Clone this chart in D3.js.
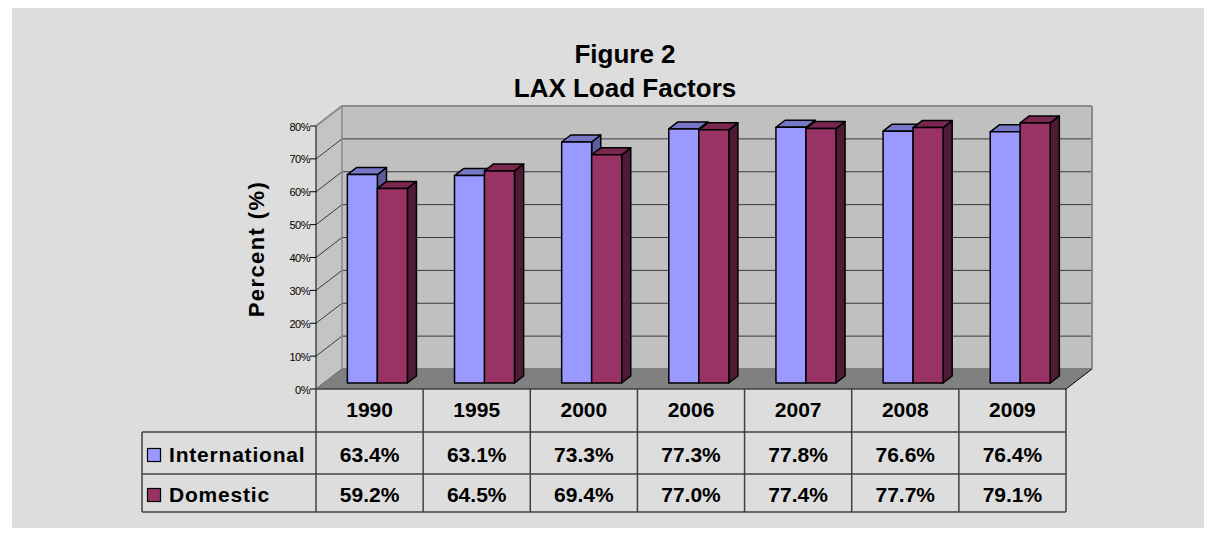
<!DOCTYPE html>
<html>
<head>
<meta charset="utf-8">
<script src="https://cdn.jsdelivr.net/npm/d3@7"></script>
<style>
  body { margin: 0; background: #fff; }
  svg text { font-family: "Liberation Sans", Arial, sans-serif; }
</style>
</head>
<body>
<svg id="graph" width="1216" height="535"></svg>
<script>
// Données
const annees = ["1990", "1995", "2000", "2006", "2007", "2008", "2009"];
const series = ["International", "Domestic"];
const international = [63.4, 63.1, 73.3, 77.3, 77.8, 76.6, 76.4];
const domestic = [59.2, 64.5, 69.4, 77.0, 77.4, 77.7, 79.1];
const graduations = [0, 10, 20, 30, 40, 50, 60, 70, 80];

const couleurs = {
  International: { face: "#9999FF", top: "#7777C8", side: "#5C5C9E" },
  Domestic: { face: "#993366", top: "#7A2850", side: "#4E1A35" }
};

const svg = d3.select("#graph");

// fond gris
svg.append("rect")
  .attr("x", 12).attr("y", 8)
  .attr("width", 1192).attr("height", 520)
  .attr("fill", "#DDDDDD");

// Titre
svg.append("text").attr("x", 625).attr("y", 63)
  .attr("text-anchor", "middle").attr("font-size", 26).attr("font-weight", "bold")
  .text("Figure 2");
svg.append("text").attr("x", 625).attr("y", 97)
  .attr("text-anchor", "middle").attr("font-size", 26).attr("font-weight", "bold")
  .text("LAX Load Factors");

// Echelles
const x = d3.scaleBand().domain(annees).range([316, 1066]);
const y = d3.scaleLinear().domain([0, 80]).range([389, 126]);
const largeurBarre = 30;
const xs = d3.scaleBand().domain(series)
  .range([(x.bandwidth() - 2 * largeurBarre) / 2, (x.bandwidth() + 2 * largeurBarre) / 2]);

// profondeur 3D
const DX = 26, DY = -20;
const proj = (px, v, z) => [px + DX * z, y(v) + DY * z];
const pts = arr => arr.map(p => p.join(",")).join(" ");

const x0 = x.range()[0], x1 = x.range()[1];

// Mur du fond
svg.append("polygon")
  .attr("points", pts([proj(x0, 0, 1), proj(x1, 0, 1), proj(x1, 80, 1), proj(x0, 80, 1)]))
  .attr("fill", "#C0C0C0");
// Mur de gauche
svg.append("polygon")
  .attr("points", pts([proj(x0, 0, 0), proj(x0, 0, 1), proj(x0, 80, 1), proj(x0, 80, 0)]))
  .attr("fill", "#C4C4C4");

// Quadrillage
graduations.forEach(g => {
  svg.append("polyline")
    .attr("points", pts([proj(x0, g, 0), proj(x0, g, 1), proj(x1, g, 1)]))
    .attr("fill", "none")
    .attr("stroke", g === 80 ? "#8A8A8A" : "#3A3A3A")
    .attr("stroke-width", g === 80 ? 2 : 1);
});
// bord droit et coin du mur
svg.append("line")
  .attr("x1", proj(x1, 0, 1)[0]).attr("y1", proj(x1, 0, 1)[1])
  .attr("x2", proj(x1, 80, 1)[0]).attr("y2", proj(x1, 80, 1)[1])
  .attr("stroke", "#8A8A8A").attr("stroke-width", 2);
svg.append("line")
  .attr("x1", proj(x0, 0, 1)[0]).attr("y1", proj(x0, 0, 1)[1])
  .attr("x2", proj(x0, 80, 1)[0]).attr("y2", proj(x0, 80, 1)[1])
  .attr("stroke", "#8A8A8A").attr("stroke-width", 1.5);

// Sol
svg.append("polygon")
  .attr("points", pts([proj(x0, 0, 0), proj(x1, 0, 0), proj(x1, 0, 1), proj(x0, 0, 1)]))
  .attr("fill", "#808080");
svg.append("line")
  .attr("x1", proj(x1, 0, 0)[0]).attr("y1", proj(x1, 0, 0)[1])
  .attr("x2", proj(x1, 0, 1)[0]).attr("y2", proj(x1, 0, 1)[1])
  .attr("stroke", "#000").attr("stroke-width", 1);

// Axe Y
svg.append("line")
  .attr("x1", x0).attr("y1", y(0)).attr("x2", x0).attr("y2", y(80))
  .attr("stroke", "#000").attr("stroke-width", 1);
graduations.forEach(g => {
  svg.append("line")
    .attr("x1", x0 - 6).attr("x2", x0).attr("y1", y(g)).attr("y2", y(g))
    .attr("stroke", "#000");
  svg.append("text")
    .attr("x", x0 - 6).attr("y", y(g) + 4.5)
    .attr("text-anchor", "end").attr("font-size", 11).attr("letter-spacing", -0.5)
    .text(g + "%");
});

svg.append("text")
  .attr("transform", "translate(264,249) rotate(-90)")
  .attr("text-anchor", "middle").attr("font-size", 22).attr("font-weight", "bold")
  .attr("letter-spacing", 1.4)
  .text("Percent (%)");

// Barres 3D
const zA = 0.3, zB = 0.65;
function barre(px, w, v, c) {
  const g = svg.append("g").attr("stroke", "#000").attr("stroke-width", 1.5).attr("stroke-linejoin", "round");
  // côté
  g.append("polygon").attr("fill", c.side)
    .attr("points", pts([proj(px + w, 0, zA), proj(px + w, 0, zB), proj(px + w, v, zB), proj(px + w, v, zA)]));
  // dessus
  g.append("polygon").attr("fill", c.top)
    .attr("points", pts([proj(px, v, zA), proj(px + w, v, zA), proj(px + w, v, zB), proj(px, v, zB)]));
  // face
  g.append("polygon").attr("fill", c.face)
    .attr("points", pts([proj(px, 0, zA), proj(px + w, 0, zA), proj(px + w, v, zA), proj(px, v, zA)]));
}
annees.forEach((a, i) => {
  barre(x(a) + xs("International"), xs.bandwidth(), international[i], couleurs.International);
  barre(x(a) + xs("Domestic"), xs.bandwidth(), domestic[i], couleurs.Domestic);
});

// Tableau de données
const tabGauche = 142, yHaut = 389, yL1 = 432, yL2 = 474, yBas = 512;
const trait = "#404040";
const ligne = (a, b, c, d) => svg.append("line")
  .attr("x1", a).attr("y1", b).attr("x2", c).attr("y2", d)
  .attr("stroke", trait).attr("stroke-width", 1.5);

ligne(x0, yHaut, x1, yHaut);
[yL1, yL2, yBas].forEach(yy => ligne(tabGauche, yy, x1, yy));
ligne(tabGauche, yL1, tabGauche, yBas);
annees.forEach(a => ligne(x(a), yHaut, x(a), yBas));
ligne(x1, yHaut, x1, yBas);

annees.forEach((a, i) => {
  const cx = x(a) + x.bandwidth() / 2;
  svg.append("text").attr("x", cx).attr("y", 417)
    .attr("text-anchor", "middle").attr("font-size", 21).attr("font-weight", "bold").text(a);
  svg.append("text").attr("x", cx).attr("y", 462)
    .attr("text-anchor", "middle").attr("font-size", 21).attr("font-weight", "bold")
    .text(international[i].toFixed(1) + "%");
  svg.append("text").attr("x", cx).attr("y", 502)
    .attr("text-anchor", "middle").attr("font-size", 21).attr("font-weight", "bold")
    .text(domestic[i].toFixed(1) + "%");
});

// Légende
[["International", 462], ["Domestic", 502]].forEach(([s, by]) => {
  svg.append("rect").attr("x", 147.5).attr("y", by - 13.5).attr("width", 13).attr("height", 13)
    .attr("fill", couleurs[s].face).attr("stroke", "#000").attr("stroke-width", 1.2);
  svg.append("text").attr("x", 169).attr("y", by)
    .attr("font-size", 21).attr("font-weight", "bold").attr("letter-spacing", 0.8).text(s);
});
</script>
</body>
</html>
